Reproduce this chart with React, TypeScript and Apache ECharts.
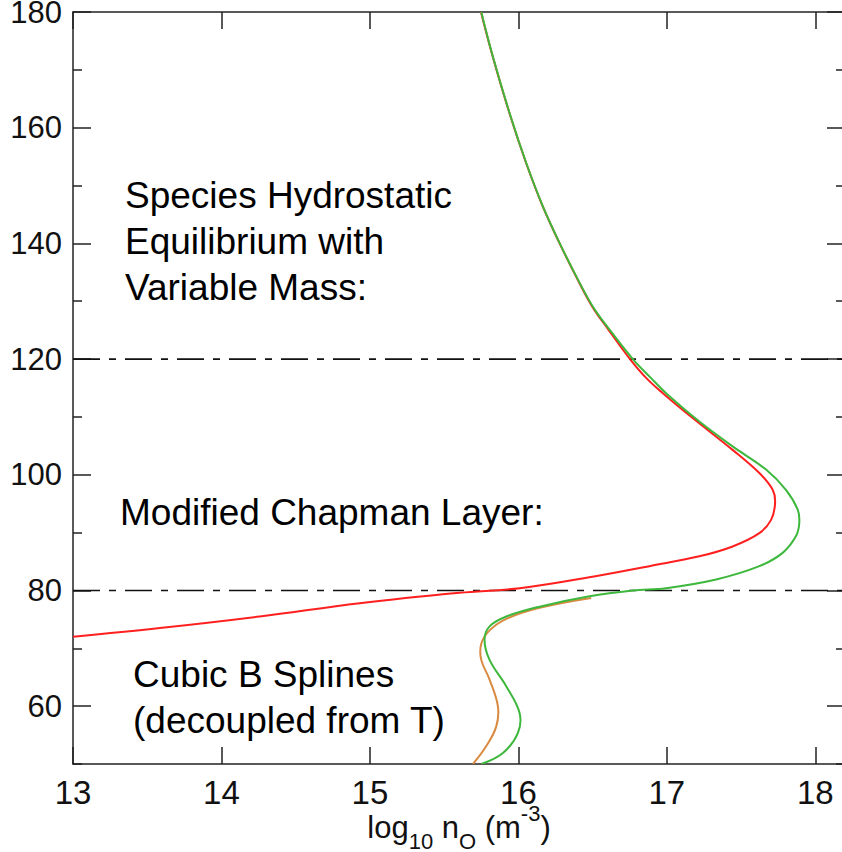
import React, { useEffect, useRef } from "react";
import * as echarts from "echarts";

// Altitude (km) and log10 density for each profile
const greenAltitude = [50, 51.9, 55.4, 58.8, 63.4, 68.0, 71.5, 73.8, 75.5, 77.2, 79.0, 80.0, 80.4, 81.9, 84.2, 86.5, 89.4, 91.7, 94.0, 97.4, 100.9, 104.9, 109.2, 114.1, 116.7, 120, 125.1, 129.1, 134.3, 140.1, 146.4, 153.9, 162.5, 172.3, 180];
const greenDensity = [15.75, 15.896, 15.997, 16.008, 15.919, 15.806, 15.772, 15.806, 15.919, 16.143, 16.479, 16.771, 16.995, 17.332, 17.623, 17.78, 17.87, 17.892, 17.881, 17.802, 17.668, 17.443, 17.219, 16.995, 16.894, 16.771, 16.614, 16.501, 16.39, 16.277, 16.165, 16.053, 15.941, 15.828, 15.75];

const redAltitude = [72.0, 73.5, 75.5, 77.8, 79.6, 80.4, 82.6, 84.2, 85.9, 87.6, 89.9, 92.2, 95.1, 97.4, 100.3, 104.3, 109.8, 114.1, 116.7, 120, 125.1, 129.1, 134.3, 140.1, 146.4, 153.9, 162.5, 172.3, 180];
const redDensity = [13.0, 13.585, 14.258, 14.931, 15.604, 16.008, 16.546, 16.883, 17.219, 17.443, 17.623, 17.702, 17.729, 17.713, 17.623, 17.443, 17.174, 16.973, 16.862, 16.752, 16.606, 16.497, 16.388, 16.276, 16.164, 16.052, 15.94, 15.827, 15.748];

const orangeAltitude = [50, 53.1, 56.5, 60.0, 64.6, 68.0, 70.8, 73.1, 75.1, 77.0, 78.7];
const orangeDensity = [15.694, 15.784, 15.851, 15.862, 15.806, 15.75, 15.75, 15.806, 15.919, 16.143, 16.49];

const xTicks = [13, 14, 15, 16, 17, 18];
const yMajorTicks = [60, 80, 100, 120, 140, 160, 180];
const yMinorTicks = [50, 70, 90, 110, 130, 150, 170];
const boundaryAltitudes = [120, 80];

const annotationUpper = "Species Hydrostatic\nEquilibrium with\nVariable Mass:";
const annotationMiddle = "Modified Chapman Layer:";
const annotationLower = "Cubic B Splines\n(decoupled from T)";

const FONT = '"Liberation Sans", Arial, Helvetica, sans-serif';
const X_MIN = 13;
const X_MAX = 18.2;

const zip = (xs: number[], ys: number[]) => xs.map((x, i) => [x, ys[i]]);

// A smooth profile curve drawn through the cartesian axes' own coordinate mapping
function profileSeries(name: string, xs: number[], ys: number[], color: string, z: number) {
  return {
    name,
    type: "custom",
    coordinateSystem: "cartesian2d",
    xAxisIndex: 0,
    yAxisIndex: 0,
    clip: true,
    z,
    data: zip(xs, ys),
    renderItem: (params: any, api: any) => {
      if (params.dataIndex !== 0) return null;
      const points = xs.map((x, i) => api.coord([x, ys[i]]));
      return {
        type: "polyline",
        shape: { points, smooth: 0.38 },
        style: { stroke: color, lineWidth: 2, fill: "none" },
      };
    },
  };
}

export default function App() {
  const ref = useRef<HTMLDivElement>(null);
  useEffect(() => {
    if (!ref.current) return;
    const chart = echarts.init(ref.current, undefined, { renderer: "svg" });
    const axisColor = "#222";
    const yCommon = { type: "value", min: 50, max: 180, splitLine: { show: false } };
    const xCommon = { type: "value", min: X_MIN, max: X_MAX, splitLine: { show: false } };
    chart.setOption({
      animation: false,
      backgroundColor: "#fff",
      grid: { left: 73, top: 12, width: 772, bottom: 88, containLabel: false, outerBoundsMode: "none" },
      xAxis: [
        {
          ...xCommon,
          position: "bottom",
          axisLine: { show: true, lineStyle: { color: axisColor, width: 1.5 } },
          axisTick: { show: true, inside: true, length: 17, customValues: xTicks, lineStyle: { color: axisColor, width: 1.5 } },
          axisLabel: { show: true, customValues: xTicks, margin: 12, color: "#111", fontSize: 33, fontFamily: FONT },
          name: "{a|log}{s|10}{a| n}{s|O}{a| (m}{p|-3}{a|)}",
          nameLocation: "middle",
          nameGap: 38,
          nameMoveOverlap: false,
          nameTextStyle: {
            rich: {
              a: { fontSize: 31, lineHeight: 50, fontFamily: FONT, color: "#111" },
              s: { fontSize: 22, lineHeight: 34, verticalAlign: "bottom", fontFamily: FONT, color: "#111" },
              p: { fontSize: 22, lineHeight: 22, verticalAlign: "top", fontFamily: FONT, color: "#111" },
            },
          },
        },
        {
          ...xCommon,
          position: "top",
          axisLine: { show: true, lineStyle: { color: axisColor, width: 1.5 } },
          axisTick: { show: true, inside: true, length: 17, customValues: xTicks, lineStyle: { color: axisColor, width: 1.5 } },
          axisLabel: { show: false },
        },
      ],
      yAxis: [
        {
          ...yCommon,
          position: "left",
          axisLine: { show: true, lineStyle: { color: axisColor, width: 1.5 } },
          axisTick: { show: true, inside: true, length: 18, customValues: yMajorTicks, lineStyle: { color: axisColor, width: 1.5 } },
          axisLabel: { show: true, customValues: yMajorTicks, margin: 11, color: "#111", fontSize: 31, fontFamily: FONT },
        },
        {
          ...yCommon,
          position: "left",
          axisLine: { show: false },
          axisTick: { show: true, inside: true, length: 9, customValues: yMinorTicks, lineStyle: { color: axisColor, width: 1.5 } },
          axisLabel: { show: false },
        },
        {
          ...yCommon,
          position: "right",
          axisLine: { show: true, lineStyle: { color: axisColor, width: 1.5 } },
          axisTick: { show: true, inside: true, length: 18, customValues: yMajorTicks, lineStyle: { color: axisColor, width: 1.5 } },
          axisLabel: { show: false },
        },
        {
          ...yCommon,
          position: "right",
          axisLine: { show: false },
          axisTick: { show: true, inside: true, length: 9, customValues: yMinorTicks, lineStyle: { color: axisColor, width: 1.5 } },
          axisLabel: { show: false },
        },
      ],
      series: [
        {
          name: "Region boundaries",
          type: "custom",
          coordinateSystem: "cartesian2d",
          xAxisIndex: 0,
          yAxisIndex: 0,
          clip: true,
          z: 2,
          data: boundaryAltitudes.map((v) => [X_MIN, v]),
          renderItem: (params: any, api: any) => {
            const alt = api.value(1);
            const p0 = api.coord([X_MIN, alt]);
            const p1 = api.coord([X_MAX, alt]);
            return {
              type: "line",
              shape: { x1: p0[0], y1: p0[1], x2: p1[0], y2: p1[1] },
              style: { stroke: "#111", lineWidth: 1.6, lineDash: [27, 9, 7, 9] },
            };
          },
        },
        profileSeries("Modified Chapman", redDensity, redAltitude, "#ff1f1f", 3),
        profileSeries("Cubic B Splines", orangeDensity, orangeAltitude, "#d98a40", 3),
        profileSeries("Combined", greenDensity, greenAltitude, "#3db83d", 4),
      ],
      graphic: [
        {
          type: "text",
          left: 125,
          top: 172,
          style: { text: annotationUpper, fontSize: 37, fontFamily: FONT, lineHeight: 46, fill: "#000" },
        },
        {
          type: "text",
          left: 120,
          top: 489,
          style: { text: annotationMiddle, fontSize: 37, fontFamily: FONT, lineHeight: 46, fill: "#000" },
        },
        {
          type: "text",
          left: 133,
          top: 651,
          style: { text: annotationLower, fontSize: 37, fontFamily: FONT, lineHeight: 46, fill: "#000" },
        },
      ],
    });
    return () => chart.dispose();
  }, []);
  return (
    <div
      ref={ref}
      style={{ position: "fixed", left: 0, top: 0, width: 842, height: 852, background: "#fff" }}
    />
  );
}
